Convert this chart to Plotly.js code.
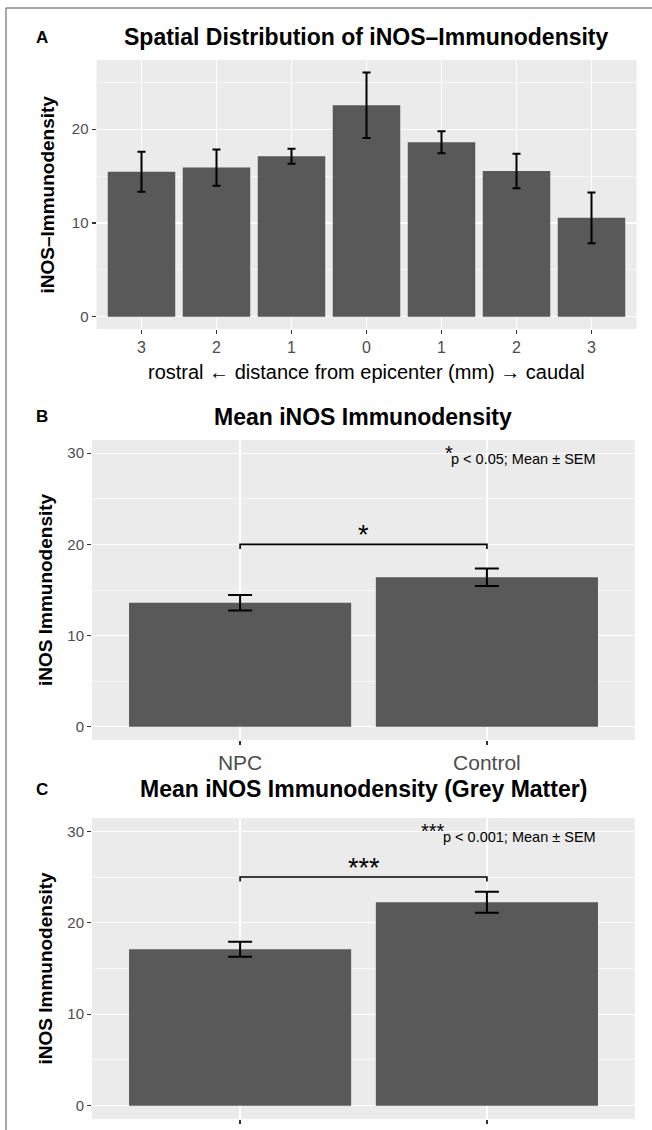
<!DOCTYPE html>
<html>
<head>
<meta charset="utf-8">
<script src="https://cdn.plot.ly/plotly-3.0.1.min.js"></script>
<style>
html,body{margin:0;padding:0;background:#fff;}
#chart{width:652px;height:1130px;}
</style>
</head>
<body>
<div id="chart"></div>
<script>
// ---- Data ----
const distanceLabels = ['3', '2', '1', '0', '1', '2', '3'];
const spatialMean = [15.45, 15.9, 17.1, 22.55, 18.6, 15.55, 10.55];
const spatialSEM = [2.13, 1.93, 0.8, 3.5, 1.17, 1.84, 2.7];

const groupLabels = ['NPC', 'Control'];
const meanTotal = [13.6, 16.4];
const semTotal = [0.86, 0.95];
const meanGrey = [17.1, 22.25];
const semGrey = [0.82, 1.15];

const bracketTotal = [20, 19.5];   // bracket level, tip end
const bracketGrey = [25, 24.5];
const sigTotal = '*';
const sigGrey = '***';
const noteTotal = 'p < 0.05; Mean ± SEM';
const noteGrey = 'p < 0.001; Mean ± SEM';

const titles = ['Spatial Distribution of iNOS\u2013Immunodensity', 'Mean iNOS Immunodensity', 'Mean iNOS Immunodensity (Grey Matter)'];
const yTitles = ['iNOS\u2013Immunodensity', 'iNOS Immunodensity', 'iNOS Immunodensity'];
const xTitleA = 'rostral \u2190 distance from epicenter (mm) \u2192 caudal';
const panelLetters = ['A', 'B', 'C'];

// ---- Layout helpers ----
const W = 652, H = 1130;
const px = x => x / W;
const py = y => 1 - y / H;
const FONT = 'Liberation Sans, Arial, Helvetica, sans-serif';
const BAR = '#595959';

const spatialPos = distanceLabels.map((_, i) => i + 1);
const groupPos = groupLabels.map((_, i) => i + 1);

const traces = [
  {type: 'bar', x: spatialPos, y: spatialMean, xaxis: 'x', yaxis: 'y',
   marker: {color: BAR, line: {width: 0}},
   error_y: {type: 'data', array: spatialSEM, visible: true, color: '#000', thickness: 2, width: 4},
   hoverinfo: 'skip', showlegend: false},
  {type: 'bar', x: groupPos, y: meanTotal, xaxis: 'x2', yaxis: 'y2',
   marker: {color: BAR, line: {width: 0}},
   error_y: {type: 'data', array: semTotal, visible: true, color: '#000', thickness: 2, width: 12},
   hoverinfo: 'skip', showlegend: false},
  {type: 'bar', x: groupPos, y: meanGrey, xaxis: 'x3', yaxis: 'y3',
   marker: {color: BAR, line: {width: 0}},
   error_y: {type: 'data', array: semGrey, visible: true, color: '#000', thickness: 2, width: 12},
   hoverinfo: 'skip', showlegend: false}
];

function yAxis(domTop, domBottom, range, anchor) {
  return {
    domain: [py(domBottom), py(domTop)], range: range, anchor: anchor,
    showgrid: true, gridcolor: '#ffffff', gridwidth: 1.3, zeroline: false, showline: false,
    tickmode: 'linear', tick0: 0, dtick: 10,
    ticks: 'outside', ticklen: 4, tickwidth: 1.3, tickcolor: '#333333',
    tickfont: {family: FONT, size: 15, color: '#4D4D4D'},
    minor: {tick0: 0, dtick: 5, showgrid: true, gridcolor: '#ffffff', gridwidth: 0.6, ticks: ''},
    fixedrange: true
  };
}
function xAxis(left, right, range, vals, text, size, anchor) {
  return {
    domain: [px(left), px(right)], range: range, anchor: anchor,
    tickmode: 'array', tickvals: vals, ticktext: text,
    showgrid: true, gridcolor: '#ffffff', gridwidth: 1.3, zeroline: false, showline: false,
    ticks: 'outside', ticklen: 4, tickwidth: 1.3, tickcolor: '#333333',
    tickfont: {family: FONT, size: size, color: '#4D4D4D'},
    fixedrange: true
  };
}

const ann = [];
function paperText(text, x, y, size, bold, opts) {
  ann.push(Object.assign({
    text: bold ? '<b>' + text + '</b>' : text, xref: 'paper', yref: 'paper',
    x: px(x), y: py(y), xanchor: 'center', yanchor: 'middle', showarrow: false,
    font: {family: FONT, size: size, color: '#000'}
  }, opts || {}));
}
// panel letters & titles
paperText(panelLetters[0], 42, 37, 17, true);
paperText(panelLetters[1], 42, 417, 17, true);
paperText(panelLetters[2], 42, 789, 17, true);
paperText(titles[0], 366, 37, 23, true);
paperText(titles[1], 363.5, 417, 23, true);
paperText(titles[2], 363.5, 789, 23, true);
// y titles
paperText(yTitles[0], 47, 194.5, 19, true, {textangle: -90});
paperText(yTitles[1], 45, 590, 19, true, {textangle: -90});
paperText(yTitles[2], 45, 968.5, 19, true, {textangle: -90});
// x title A
paperText(xTitleA, 366, 372, 20, false);

// significance text (data coords)
function dataText(text, x, y, xr, yr, size, xanchor) {
  ann.push({text: text, xref: xr, yref: yr, x: x, y: y, xanchor: xanchor || 'center', yanchor: 'middle',
    showarrow: false, font: {family: FONT, size: size, color: '#000'}});
}
const midTotal = (groupPos[0] + groupPos[1]) / 2;
dataText(sigTotal, midTotal, bracketTotal[0] + 1.0, 'x2', 'y2', 27);
dataText(sigGrey, midTotal, bracketGrey[0] + 1.0, 'x3', 'y3', 27);
dataText(sigTotal, 1.845, 30.05, 'x2', 'y2', 20);
dataText(noteTotal, 2.45, 29.4, 'x2', 'y2', 14.5, 'right');
dataText(sigGrey, 1.78, 30.05, 'x3', 'y3', 20);
dataText(noteGrey, 2.45, 29.4, 'x3', 'y3', 14.5, 'right');

function bracketPath(p, b) {
  return 'M' + p[0] + ',' + b[1] + ' L' + p[0] + ',' + b[0] + ' L' + p[1] + ',' + b[0] + ' L' + p[1] + ',' + b[1];
}
const shapes = [
  {type: 'line', xref: 'paper', yref: 'paper', x0: px(6), x1: 1, y0: py(8), y1: py(8), line: {color: '#8a8a8a', width: 1.5}},
  {type: 'line', xref: 'paper', yref: 'paper', x0: px(6), x1: px(6), y0: py(8), y1: 0, line: {color: '#8a8a8a', width: 1.5}},
  {type: 'path', xref: 'x2', yref: 'y2', path: bracketPath(groupPos, bracketTotal), line: {color: '#000', width: 1.6}},
  {type: 'path', xref: 'x3', yref: 'y3', path: bracketPath(groupPos, bracketGrey), line: {color: '#000', width: 1.6}}
];

const layout = {
  width: W, height: H, margin: {l: 0, r: 0, t: 0, b: 0},
  paper_bgcolor: '#ffffff', plot_bgcolor: '#EBEBEB',
  bargap: 0.1, showlegend: false, hovermode: false,
  xaxis: xAxis(96.5, 636.5, [0.4, 7.6], spatialPos, distanceLabels, 16, 'y'),
  yaxis: yAxis(60, 329, [-1.3, 27.37], 'x'),
  xaxis2: xAxis(92, 635, [0.4, 2.6], groupPos, groupLabels, 21, 'y2'),
  yaxis2: yAxis(440, 740, [-1.45, 31.45], 'x2'),
  xaxis3: xAxis(92, 635, [0.4, 2.6], groupPos, groupLabels, 21, 'y3'),
  yaxis3: yAxis(818, 1119, [-1.45, 31.45], 'x3'),
  annotations: ann, shapes: shapes
};

Plotly.newPlot('chart', traces, layout, {staticPlot: true, displayModeBar: false});
</script>
</body>
</html>
